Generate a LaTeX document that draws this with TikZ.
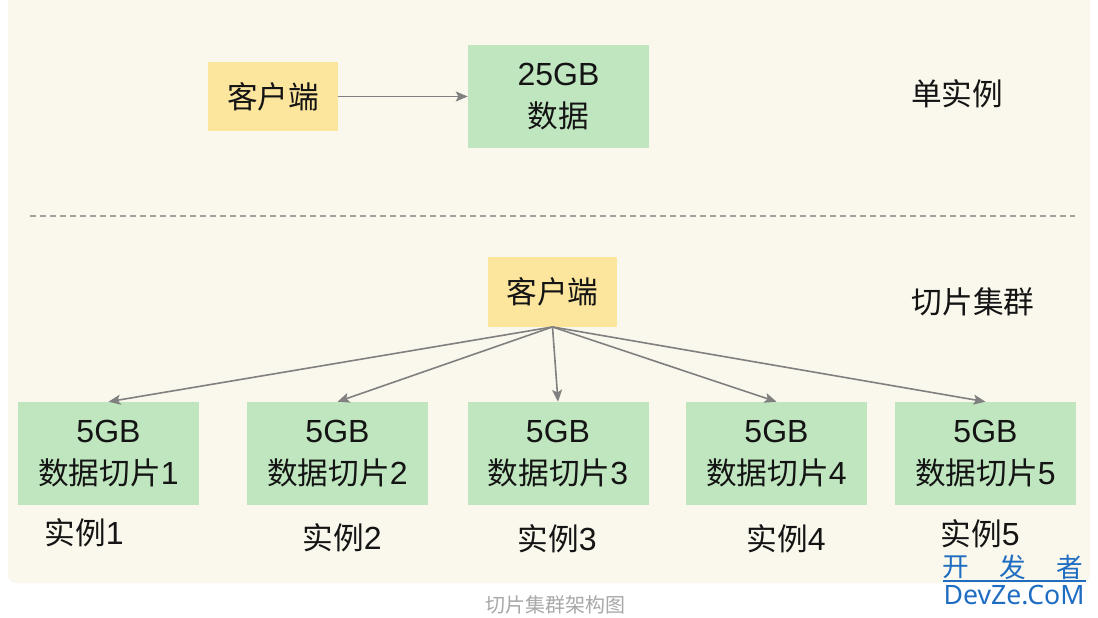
\documentclass[tikz,border=0pt]{standalone}
\usepackage{fontspec}
\setmainfont{Liberation Sans}
\newfontfamily\cjk{Noto Sans CJK SC}
\newfontfamily\wmfont{Noto Sans}
\usetikzlibrary{arrows.meta}
\definecolor{bgbeige}{HTML}{FAF7EC}
\definecolor{cyellow}{HTML}{FCE59D}
\definecolor{cgreen}{HTML}{C0E6BF}
\definecolor{arrowgray}{HTML}{808080}
\definecolor{dashgray}{HTML}{A0A0A0}
\definecolor{captiongray}{HTML}{A8A8A8}
\definecolor{wmblue}{HTML}{1F6DC2}
\definecolor{txt}{HTML}{141414}
\newcommand{\zh}[1]{{\cjk #1}}
\newcommand{\lat}[1]{{\fontsize{24pt}{31pt}\selectfont #1}}
\begin{document}
\begin{tikzpicture}[x=0.75pt,y=-0.75pt,
  boxtext/.style={text=txt, align=center, inner sep=0pt,
    font=\fontsize{23pt}{31pt}\selectfont},
  clientbox/.style={boxtext, fill=cyellow, draw=none,
    minimum width=97pt, minimum height=52pt},
  databox/.style={boxtext, fill=cgreen, draw=none,
    minimum width=135.75pt, minimum height=77.25pt},
  lbl/.style={text=txt, inner sep=0pt, font=\fontsize{23pt}{28pt}\selectfont},
  arr/.style={draw=arrowgray, line width=1.2pt,
    -{Stealth[length=9pt,width=7.5pt,inset=2pt]}},
  wm/.style={text=wmblue, inner sep=0pt}
]
\useasboundingbox (0,0) rectangle (1098,617);
\fill[white] (0,0) rectangle (1098,617);
\fill[bgbeige, rounded corners=6pt] (8,-20) rectangle (1090,583);

% single instance
\node[clientbox] (c1) at (273,96.5) {\zh{客户端}};
\node[databox, minimum height=77.25pt] (d1) at (558.5,96.5) {\lat{25GB}\\\zh{数据}};
\node[lbl] (l1) at (957,94) {\zh{单实例}};
\draw[arr] (c1.east) -- (d1.west);

% separator
\coordinate (sepL) at (30,216);
\coordinate (sepR) at (1075,216);
\draw[dashgray, line width=0.8pt, dash pattern=on 4.5pt off 3pt] (sepL) -- (sepR);

% cluster
\node[clientbox] (c2) at (552.5,292) {\zh{客户端}};
\node[lbl] (l2) at (973,302) {\zh{切片集群}};

\node[databox] (b1) at (108.5,453.5) {\lat{5GB}\\\zh{数据切片}\lat{1}};
\node[databox] (b2) at (337.5,453.5) {\lat{5GB}\\\zh{数据切片}\lat{2}};
\node[databox] (b3) at (558,453.5) {\lat{5GB}\\\zh{数据切片}\lat{3}};
\node[databox] (b4) at (776.5,453.5) {\lat{5GB}\\\zh{数据切片}\lat{4}};
\node[databox] (b5) at (985.5,453.5) {\lat{5GB}\\\zh{数据切片}\lat{5}};

\foreach \i in {1,...,5} {
  \draw[arr] (c2.south) -- (b\i.north);
}

\node[lbl] (s1) at (84,533) {\zh{实例}\lat{1}};
\node[lbl] (s2) at (342,538) {\zh{实例}\lat{2}};
\node[lbl] (s3) at (557,539) {\zh{实例}\lat{3}};
\node[lbl] (s4) at (786,539) {\zh{实例}\lat{4}};
\node[lbl] (s5) at (980,534) {\zh{实例}\lat{5}};

% caption
\node[text=captiongray, inner sep=0pt, font=\cjk\fontsize{15pt}{18pt}\selectfont] (cap) at (555,605) {切片集群架构图};

% watermark
\node[wm, font=\cjk\fontsize{20pt}{24pt}\selectfont] (w1) at (956,567) {开};
\node[wm, font=\cjk\fontsize{20pt}{24pt}\selectfont] (w2) at (1013,567) {发};
\node[wm, font=\cjk\fontsize{20pt}{24pt}\selectfont] (w3) at (1070,567) {者};
\coordinate (ulL) at (943,581);
\coordinate (ulR) at (1086,581);
\draw[wmblue, line width=0.8pt] (ulL) -- (ulR);
\node[wm, font=\wmfont\fontsize{20pt}{24pt}\selectfont] (w4) at (1014,595) {DevZe.CoM};
\end{tikzpicture}
\end{document}
